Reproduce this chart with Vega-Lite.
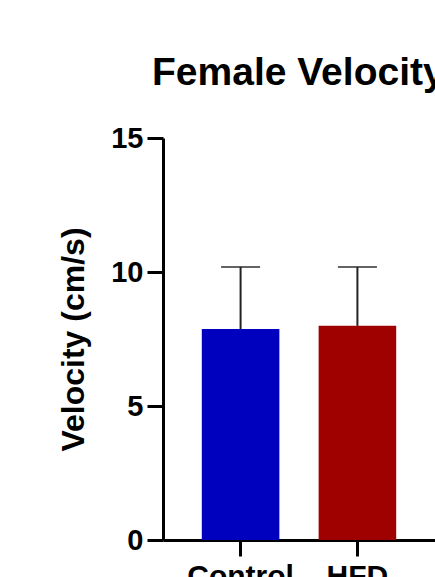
{
  "$schema": "https://vega.github.io/schema/vega-lite/v6.json",
  "autosize": {"type": "none"},
  "width": 272,
  "height": 402,
  "padding": {"left": 163, "top": 138, "right": 0, "bottom": 37},
  "background": "white",
  "config": {
    "view": {"stroke": null},
    "font": "Liberation Sans"
  },
  "title": {
    "text": "Female Velocity",
    "anchor": "start",
    "frame": "group",
    "dx": -11,
    "offset": 31,
    "font": "Liberation Sans",
    "fontSize": 39,
    "fontWeight": "bold",
    "color": "black"
  },
  "data": {
    "values": [
      {"group": "Control", "velocity": 7.87, "upper": 10.19},
      {"group": "HFD", "velocity": 7.99, "upper": 10.19}
    ]
  },
  "encoding": {
    "x": {
      "field": "group",
      "type": "nominal",
      "sort": ["Control", "HFD"],
      "scale": {"paddingInner": 0.336, "paddingOuter": 0.332},
      "axis": {
        "title": null,
        "labelAngle": 0,
        "labelFont": "Liberation Sans",
        "labelFontSize": 30,
        "labelFontWeight": "bold",
        "labelColor": "black",
        "labelPadding": 5,
        "domainColor": "black",
        "domainWidth": 3,
        "tickColor": "black",
        "tickWidth": 3,
        "tickSize": 16
      }
    }
  },
  "layer": [
    {
      "mark": {"type": "bar"},
      "encoding": {
        "y": {
          "field": "velocity",
          "type": "quantitative",
          "scale": {"domain": [0, 15], "nice": false},
          "axis": {
            "title": "Velocity (cm/s)",
            "titleFont": "Liberation Sans",
            "titleFontSize": 32,
            "titleFontWeight": "bold",
            "titleColor": "black",
            "titlePadding": 20,
            "values": [0, 5, 10, 15],
            "grid": false,
            "labelFont": "Liberation Sans",
            "labelFontSize": 29,
            "labelFontWeight": "bold",
            "labelColor": "black",
            "labelPadding": 4,
            "domainColor": "black",
            "domainWidth": 3,
            "tickColor": "black",
            "tickWidth": 3,
            "tickSize": 16
          }
        },
        "color": {
          "field": "group",
          "type": "nominal",
          "scale": {"domain": ["Control", "HFD"], "range": ["#0000BF", "#9F0000"]},
          "legend": null
        }
      }
    },
    {
      "mark": {"type": "rule", "color": "#222222", "strokeWidth": 2},
      "encoding": {
        "y": {"field": "velocity", "type": "quantitative"},
        "y2": {"field": "upper"}
      }
    },
    {
      "mark": {"type": "tick", "color": "#222222", "thickness": 2, "size": 39},
      "encoding": {
        "y": {"field": "upper", "type": "quantitative"}
      }
    }
  ]
}
